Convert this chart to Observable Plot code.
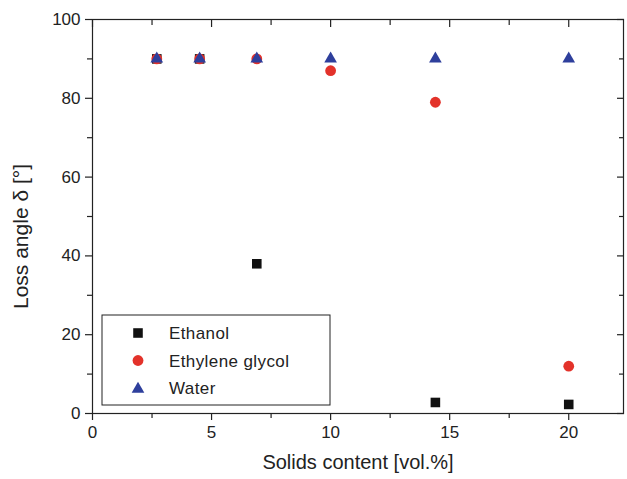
<!DOCTYPE html>
<html><head><meta charset="utf-8">
<script src="https://cdn.jsdelivr.net/npm/d3@7"></script>
<script src="https://cdn.jsdelivr.net/npm/@observablehq/plot@0.6"></script>
<style>body{margin:0;background:#fff;} svg{display:block;}</style>
</head><body><div id="chart"></div>
<script>
const ethanolX = [2.7, 4.5, 6.9, 14.4, 20];
const ethanolY = [90, 90, 38, 2.8, 2.3];
const glycolX = [2.7, 4.5, 6.9, 10, 14.4, 20];
const glycolY = [90, 90, 90, 87, 79, 12];
const waterX = [2.7, 4.5, 6.9, 10, 14.4, 20];
const waterY = [90, 90, 90, 90, 90, 90];
const seriesNames = ["Ethanol", "Ethylene glycol", "Water"];
const xMajor = [0, 5, 10, 15, 20];
const xMinor = [2.5, 7.5, 12.5, 17.5];
const yMajor = [0, 20, 40, 60, 80, 100];
const yMinor = [10, 30, 50, 70, 90];

const colors = {"Ethanol": "#111111", "Ethylene glycol": "#e3322a", "Water": "#2e3f9c"};
const symbols = {"Ethanol": "square", "Ethylene glycol": "circle", "Water": "triangle"};
const radii = {"Ethanol": 5.4, "Ethylene glycol": 5.4, "Water": 4.7};

const toRows = (xs, ys, name) => xs.map((x, i) => ({x, y: ys[i], name}));
const ethanol = toRows(ethanolX, ethanolY, seriesNames[0]);
const glycol = toRows(glycolX, glycolY, seriesNames[1]);
const water = toRows(waterX, waterY, seriesNames[2]);

const font = "Liberation Sans, Arial, sans-serif";
const ink = "#222";

function legend(index, scales, values, dims) {
  const g = d3.create("svg:g");
  const x0 = 102, y0 = 315, w = 228, h = 90;
  g.append("rect").attr("x", x0).attr("y", y0).attr("width", w).attr("height", h)
    .attr("fill", "white").attr("stroke", ink).attr("stroke-width", 1);
  seriesNames.forEach((n, i) => {
    const cy = y0 + 18 + i * 27.5;
    const r = radii[n];
    const sym = symbols[n] === "square" ? d3.symbolSquare : symbols[n] === "circle" ? d3.symbolCircle : d3.symbolTriangle;
    g.append("path")
      .attr("d", d3.symbol(sym, Math.PI * r * r)())
      .attr("transform", `translate(138,${cy + (symbols[n] === "triangle" ? 1 : 0)})`)
      .attr("fill", colors[n]);
    g.append("text").attr("x", 169).attr("y", cy).attr("dy", "0.36em")
      .attr("text-anchor", "start")
      .attr("font-size", 17).attr("letter-spacing", "0.4px")
      .attr("font-family", font).attr("fill", ink).text(n);
  });
  return g.node();
}

const dotMark = (data, n) => Plot.dot(data, {x: "x", y: "y", symbol: () => symbols[n], r: radii[n], fill: colors[n], stroke: "none"});
const axisOpts = {label: null, stroke: ink, strokeWidth: 1.2};

const chart = Plot.plot({
  width: 627,
  height: 479,
  marginLeft: 92,
  marginRight: 4,
  marginTop: 19,
  marginBottom: 66,
  style: {fontFamily: font, fontSize: "17px", color: ink, background: "white"},
  x: {domain: [0, 22.3]},
  y: {domain: [0, 100]},
  symbol: {domain: ["square", "circle", "triangle"], range: ["square", "circle", "triangle"]},
  marks: [
    Plot.frame({stroke: ink, strokeWidth: 1.2}),
    Plot.axisX({...axisOpts, ticks: xMajor, tickSize: 7, tickPadding: 5, fontSize: 17, fill: ink}),
    Plot.axisX({...axisOpts, ticks: xMinor, tickSize: 5, tickFormat: () => ""}),
    Plot.axisX({...axisOpts, anchor: "top", ticks: xMajor, tickSize: -7, tickFormat: () => ""}),
    Plot.axisX({...axisOpts, anchor: "top", ticks: xMinor, tickSize: -5, tickFormat: () => ""}),
    Plot.axisY({...axisOpts, ticks: yMajor, tickSize: 7, tickPadding: 5, fontSize: 17, fill: ink}),
    Plot.axisY({...axisOpts, ticks: yMinor, tickSize: 5, tickFormat: () => ""}),
    Plot.axisY({...axisOpts, anchor: "right", ticks: yMajor, tickSize: -7, tickFormat: () => ""}),
    Plot.axisY({...axisOpts, anchor: "right", ticks: yMinor, tickSize: -5, tickFormat: () => ""}),
    Plot.text(["Solids content [vol.%]"], {frameAnchor: "bottom", dy: 55, fontSize: 20, fill: ink, style: "letter-spacing:0.8px"}),
    Plot.text(["Loss angle δ [°]"], {frameAnchor: "left", textAnchor: "middle", dx: -71, dy: 20, rotate: -90, fontSize: 21, fill: ink, style: "letter-spacing:0.3px"}),
    dotMark(ethanol, "Ethanol"),
    dotMark(glycol, "Ethylene glycol"),
    dotMark(water, "Water"),
    legend
  ]
});
document.getElementById("chart").append(chart);
</script></body></html>
